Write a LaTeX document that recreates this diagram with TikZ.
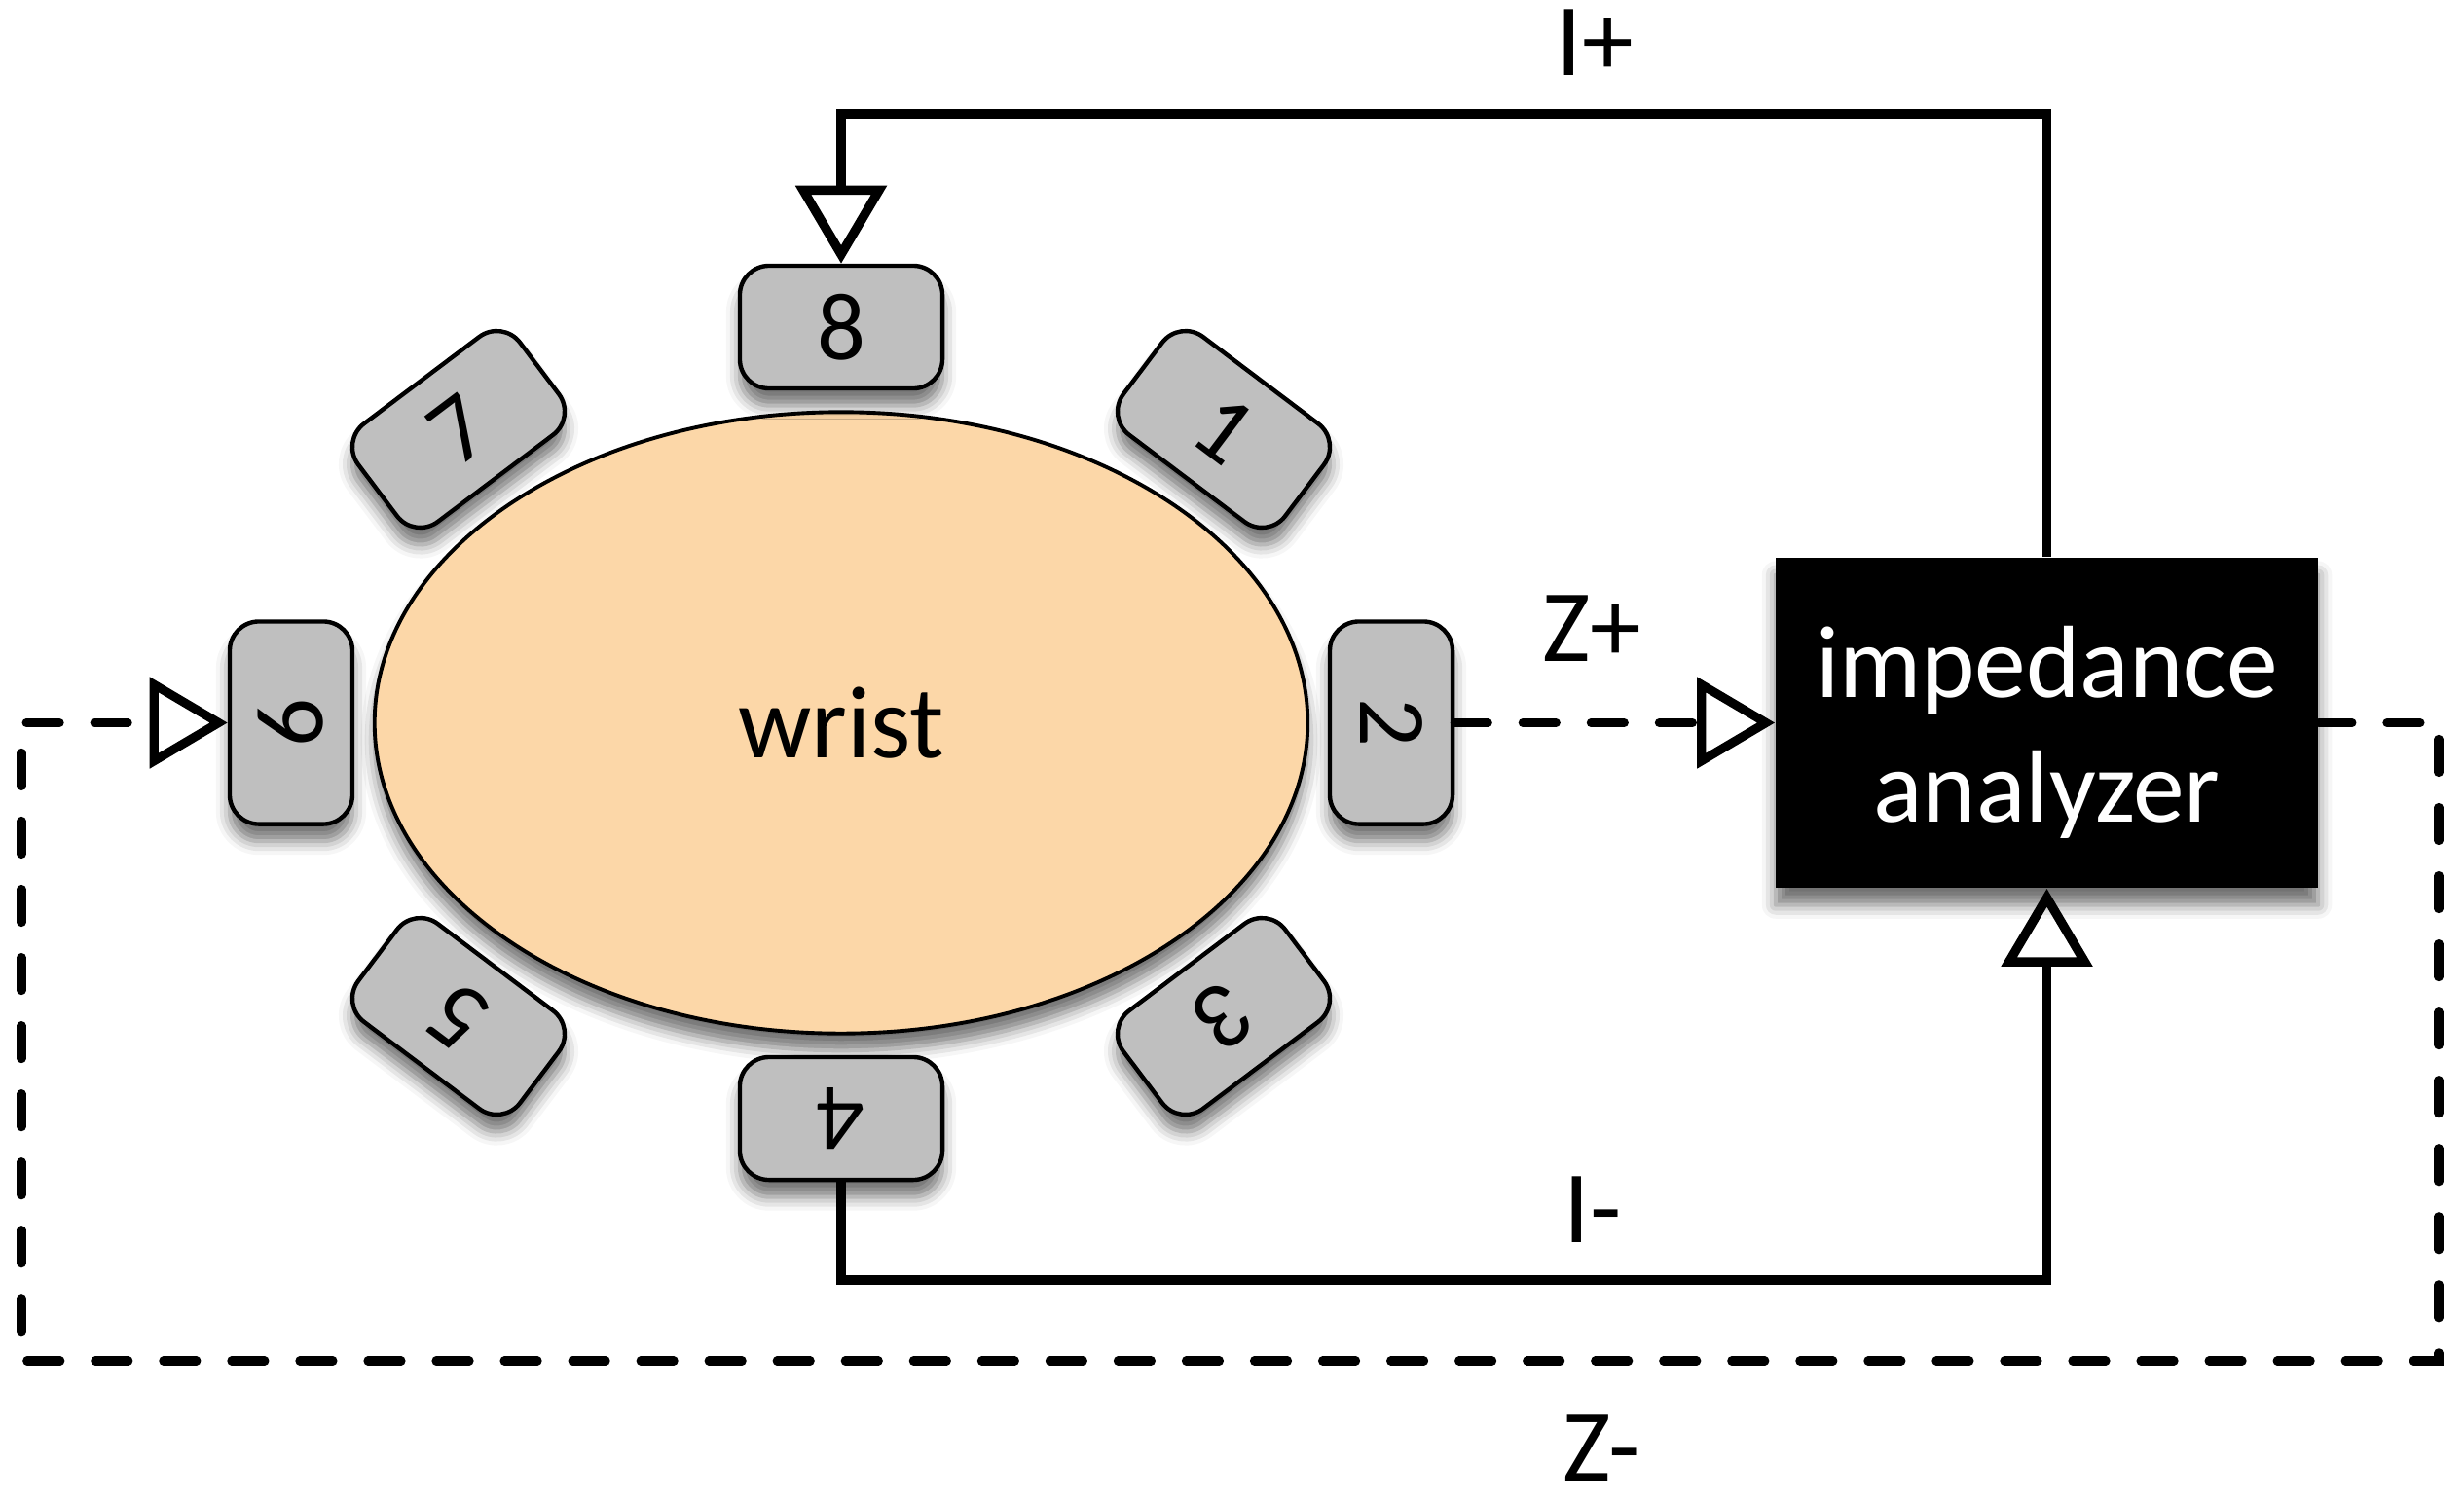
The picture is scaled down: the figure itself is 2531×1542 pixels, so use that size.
\documentclass[tikz,border=0pt]{standalone}
\usepackage{fontspec}
\setmainfont{Carlito}
\usetikzlibrary{arrows.meta,shapes.geometric,shadows.blur}
\definecolor{skin}{RGB}{252,215,168}
\definecolor{padgray}{RGB}{191,191,191}
\begin{document}
\begin{tikzpicture}[x=0.01cm,y=-0.01cm,
  shad/.style={blur shadow={shadow xshift=0pt,shadow yshift=-5pt,shadow blur radius=4pt,shadow opacity=55}},
  pad/.style={draw=black, line width=1.25pt, fill=padgray, rounded corners=0.3cm,
    minimum width=2.08cm, minimum height=1.26cm, inner sep=0pt,
    font=\fontsize{28}{32}\selectfont, shad},
  wire/.style={line width=2.7pt},
  dwire/.style={line width=2.6pt, dash pattern=on 0.34cm off 0.36cm, line cap=round},
  tipend/.style={-{Triangle[open,length=0.8cm,width=0.92cm,line cap=butt]}},
  lbl/.style={font=\fontsize{30}{36}\selectfont, inner sep=0pt}
]
\useasboundingbox (0,0) rectangle (2531,1542);

% wrist
\node[ellipse, draw=black, line width=1.1pt, fill=skin, minimum width=9.58cm, minimum height=6.38cm,
  inner sep=0pt, font=\fontsize{30}{36}\selectfont, shad] (wrist) at (864,742.5) {wrist};

% electrodes
\node[pad, rotate=0]    (e8) at (864,336)   {8};
\node[pad, rotate=37]   (e7) at (471,441)   {7};
\node[pad, rotate=90]   (e6) at (299,742.5) {6};
\node[pad, rotate=143]  (e5) at (471,1044)  {5};
\node[pad, rotate=180]  (e4) at (864,1149)  {4};
\node[pad, rotate=-143] (e3) at (1257,1044) {3};
\node[pad, rotate=-90]  (e2) at (1429,742.5) {2};
\node[pad, rotate=-37]  (e1) at (1257,441)  {1};

% analyzer
\node[fill=black, minimum width=5.57cm, minimum height=3.39cm, inner sep=0pt, shad] (ana) at (2102.5,742.5) {};
\node[text=white, align=center, inner sep=0pt, font=\fontsize{30}{36.4}\selectfont] (anatext)
  at ([yshift=-0.1cm]ana.center) {impedance\\analyzer};

% corner coordinates
\coordinate (ctop) at (2102.5,117);
\coordinate (cbot) at (864,1315);
\coordinate (zr) at (2505,1398);
\coordinate (zl) at (22,1398);

% connectors
\draw[wire, tipend] (ana.north) -- (ana.north |- ctop) -| (e8.north);
\draw[wire, tipend] (e4.north) -- (cbot) -| (ana.south);
\draw[dwire, tipend] (e2.north) -- (ana.west);
\draw[dwire, tipend] (ana.east) -| (zr) -- (zl) |- (e6.north);

% labels
\node[lbl] (lip) at (1638,44) {I+};
\node[lbl] (lzp) at (1635,646) {Z+};
\node[lbl] (lim) at (1636,1243) {I-};
\node[lbl] (lzm) at (1645,1488) {Z-};
\end{tikzpicture}
\end{document}
